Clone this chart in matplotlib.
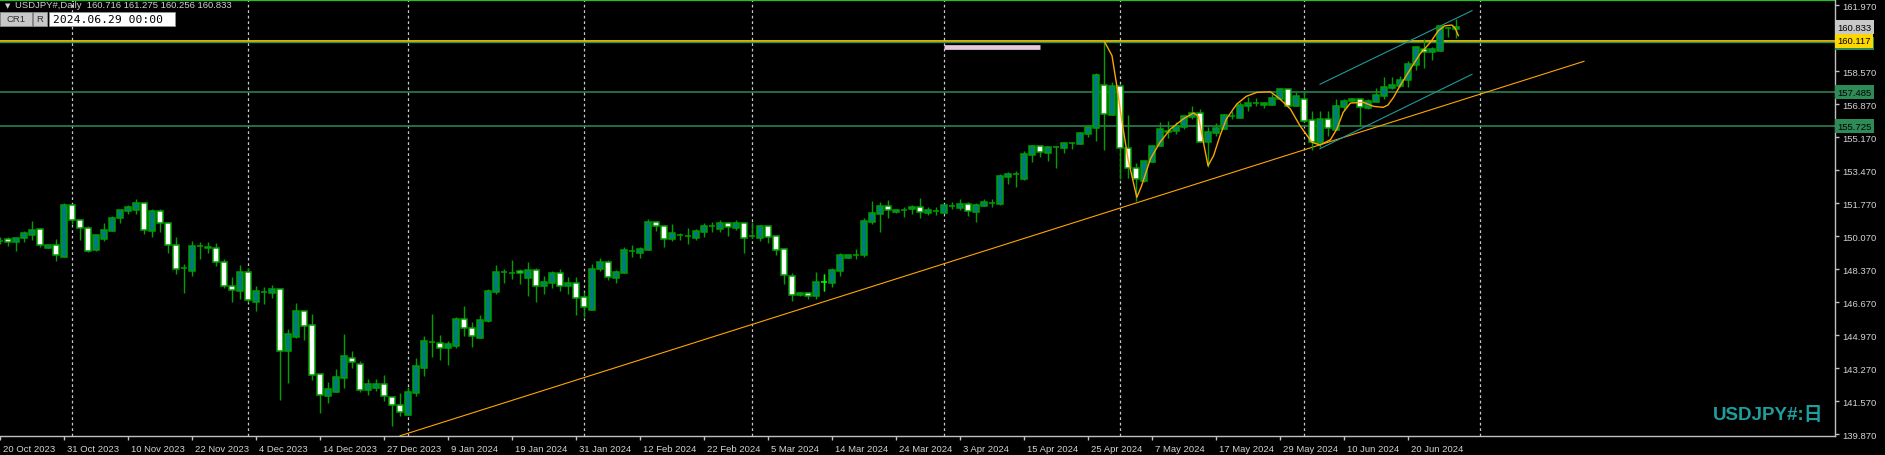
import matplotlib.pyplot as plt
from matplotlib.patches import Rectangle
from matplotlib.transforms import ScaledTranslation, blended_transform_factory

plt.rcParams['font.family'] = ['Liberation Sans', 'DejaVu Sans']

# daily candles, bar 0 = first visible bar
opens = [149.83, 149.90, 149.75, 149.95, 150.14, 150.43, 149.47, 149.59, 149.00, 151.67,
         150.88, 150.47, 149.36, 149.92, 150.34, 150.98, 151.34, 151.43, 151.77, 150.34,
         151.34, 150.72, 149.61, 148.41, 148.28, 149.54, 149.52, 149.44, 148.71, 147.51,
         147.22, 148.20, 146.69, 147.17, 147.15, 147.32, 144.13, 144.88, 146.19, 145.48,
         142.96, 141.84, 142.05, 142.77, 143.77, 143.46, 142.15, 142.24, 142.43, 141.76,
         141.36, 140.86, 142.00, 143.28, 144.59, 144.54, 144.28, 144.42, 145.78, 145.31,
         144.83, 145.69, 147.20, 148.20, 148.15, 148.25, 147.92, 148.30, 147.51, 147.66,
         148.15, 147.51, 147.63, 146.91, 146.27, 148.37, 148.71, 147.92, 148.18, 149.31,
         149.21, 149.36, 150.78, 150.57, 149.93, 150.14, 150.09, 149.98, 150.29, 150.57,
         150.45, 150.72, 150.50, 150.72, 150.05, 149.97, 150.59, 150.07, 149.40, 148.01,
         147.03, 147.12, 147.00, 147.68, 147.65, 148.27, 148.95, 149.11, 149.11, 150.81,
         151.22, 151.60, 151.29, 151.43, 151.44, 151.55, 151.27, 151.37, 151.27, 151.62,
         151.53, 151.70, 151.32, 151.60, 151.79, 151.73, 153.13, 153.28, 153.01, 154.26,
         154.69, 154.36, 154.67, 154.59, 154.86, 154.81, 155.32, 155.65, 157.85, 156.32,
         157.78, 154.59, 153.59, 152.90, 153.90, 154.69, 155.41, 155.46, 155.67, 156.22,
         156.42, 154.90, 155.36, 155.58, 156.24, 156.15, 156.78, 156.91, 156.82, 156.83,
         157.13, 157.64, 156.78, 157.13, 156.05, 154.86, 156.10, 155.52, 156.73, 157.05,
         157.11, 156.68, 156.99, 157.27, 157.71, 157.81, 158.09, 158.90, 159.72, 159.53,
         159.62, 160.80, 160.716]
highs = [150.00, 150.00, 149.95, 150.34, 150.84, 150.47, 149.59, 149.92, 151.77, 151.72,
         150.95, 150.60, 150.11, 150.74, 151.09, 151.39, 151.67, 151.98, 151.84, 151.46,
         151.46, 150.81, 150.02, 148.63, 149.83, 149.76, 149.76, 149.71, 148.88, 147.96,
         148.58, 148.41, 147.49, 147.46, 147.54, 147.32, 145.28, 146.62, 146.19, 146.05,
         142.96, 142.55, 143.22, 145.02, 144.15, 143.63, 142.70, 142.70, 142.91, 141.76,
         141.97, 142.27, 143.78, 144.93, 146.05, 144.97, 144.66, 145.91, 146.46, 145.62,
         145.99, 147.34, 148.56, 148.37, 148.83, 148.37, 148.73, 148.42, 147.99, 148.27,
         148.37, 147.97, 147.97, 147.17, 148.63, 148.94, 148.83, 148.32, 149.49, 149.61,
         149.49, 150.95, 150.86, 150.64, 150.69, 150.22, 150.47, 150.43, 150.74, 150.78,
         150.91, 150.72, 150.89, 150.72, 150.78, 150.64, 150.59, 150.14, 149.45, 148.15,
         147.20, 147.20, 148.20, 148.11, 148.42, 149.19, 149.09, 149.40, 151.00, 151.87,
         151.82, 151.92, 151.46, 151.56, 151.67, 152.03, 151.58, 151.55, 151.65, 151.82,
         151.96, 151.82, 151.77, 151.96, 151.96, 153.25, 153.35, 153.40, 154.43, 154.77,
         154.76, 154.72, 154.72, 154.86, 154.91, 155.41, 155.72, 158.47, 160.18, 157.99,
         157.78, 156.30, 153.83, 153.92, 154.76, 155.96, 155.98, 155.93, 156.27, 156.78,
         156.61, 155.67, 155.88, 156.36, 156.53, 156.96, 157.22, 157.18, 156.96, 157.39,
         157.68, 157.64, 157.47, 157.50, 156.53, 156.49, 156.53, 157.13, 157.13, 157.20,
         157.13, 157.13, 157.68, 158.25, 158.26, 158.30, 159.07, 159.84, 160.22, 159.82,
         160.87, 160.82, 161.275]
lows = [149.66, 149.57, 149.31, 149.78, 149.88, 149.49, 149.47, 148.80, 149.00, 150.69,
        149.88, 149.23, 149.31, 149.83, 150.31, 150.74, 151.20, 151.20, 150.17, 150.03,
        150.26, 149.19, 148.11, 147.13, 148.02, 148.88, 149.19, 148.54, 147.37, 146.69,
        146.82, 146.65, 146.21, 146.57, 146.88, 141.64, 142.50, 144.83, 144.73, 142.65,
        140.95, 141.47, 142.05, 142.24, 143.27, 142.02, 141.88, 142.08, 141.58, 140.30,
        140.81, 140.86, 141.84, 142.87, 143.85, 143.68, 143.44, 144.30, 144.93, 144.37,
        144.83, 145.62, 147.08, 147.65, 147.85, 147.60, 146.99, 146.69, 147.08, 147.39,
        147.25, 147.08, 146.01, 145.91, 146.27, 148.28, 147.80, 147.66, 148.18, 148.99,
        148.95, 149.36, 150.34, 149.52, 149.83, 149.88, 149.67, 149.88, 150.03, 150.29,
        150.29, 150.09, 150.39, 149.19, 149.95, 149.81, 149.71, 149.09, 147.60, 146.72,
        146.96, 146.82, 146.82, 147.25, 147.46, 148.02, 148.95, 148.88, 148.99, 150.70,
        150.29, 151.01, 151.27, 151.06, 151.20, 151.00, 151.17, 151.15, 151.27, 151.46,
        151.41, 151.12, 150.81, 151.60, 151.58, 151.68, 152.75, 152.61, 152.97, 153.87,
        154.14, 153.93, 153.57, 154.35, 154.55, 154.81, 155.19, 154.98, 154.50, 156.30,
        153.01, 153.07, 151.89, 152.84, 153.87, 154.69, 155.10, 155.32, 155.58, 156.10,
        154.90, 153.61, 155.24, 155.58, 156.10, 156.15, 156.53, 156.78, 156.65, 156.82,
        157.09, 156.75, 156.75, 155.96, 154.50, 154.64, 155.24, 155.52, 156.58, 156.96,
        155.75, 156.61, 156.99, 157.13, 157.64, 157.75, 157.75, 158.64, 158.74, 159.14,
        159.62, 160.31, 160.256]
closes = [149.83, 149.75, 149.95, 150.21, 150.38, 149.59, 149.59, 149.08, 151.67, 150.91,
          150.47, 149.31, 150.11, 150.36, 151.00, 151.39, 151.55, 151.75, 150.39, 151.34,
          150.72, 149.62, 148.39, 148.41, 149.54, 149.54, 149.44, 148.71, 147.48, 147.27,
          148.20, 146.79, 147.22, 147.17, 147.32, 144.16, 145.02, 146.19, 145.45, 142.92,
          141.89, 142.17, 142.79, 143.87, 143.59, 142.15, 142.45, 142.45, 141.84, 141.38,
          141.02, 142.02, 143.36, 144.64, 144.59, 144.28, 144.51, 145.78, 145.31, 144.93,
          145.73, 147.22, 148.20, 148.20, 148.15, 148.15, 148.30, 147.51, 147.68, 148.15,
          147.51, 147.63, 146.89, 146.43, 148.35, 148.71, 147.97, 148.20, 149.35, 149.31,
          149.40, 150.78, 150.57, 149.93, 150.21, 150.14, 150.09, 150.33, 150.57, 150.57,
          150.72, 150.52, 150.72, 149.98, 150.05, 150.59, 150.03, 149.36, 148.06, 147.05,
          147.13, 147.00, 147.68, 147.68, 148.30, 149.09, 149.07, 149.11, 150.83, 151.24,
          151.60, 151.42, 151.41, 151.43, 151.56, 151.29, 151.41, 151.37, 151.65, 151.62,
          151.70, 151.34, 151.65, 151.82, 151.79, 153.16, 153.25, 153.28, 154.28, 154.69,
          154.38, 154.66, 154.67, 154.86, 154.86, 155.38, 155.67, 158.36, 156.34, 157.78,
          154.59, 153.59, 152.99, 153.92, 154.69, 155.58, 155.50, 155.75, 156.24, 156.42,
          154.90, 155.41, 155.63, 156.30, 156.24, 156.82, 156.91, 156.91, 156.91, 157.16,
          157.64, 156.78, 157.27, 156.01, 154.90, 156.10, 155.62, 156.75, 157.01, 157.15,
          156.70, 157.01, 157.33, 157.73, 157.85, 158.11, 158.93, 159.81, 159.53, 159.70,
          160.87, 160.80, 160.833]

date_ticks = list(range(0, 177, 8))
date_labels = ['20 Oct 2023', '31 Oct 2023', '10 Nov 2023', '22 Nov 2023', '4 Dec 2023',
               '14 Dec 2023', '27 Dec 2023', '9 Jan 2024', '19 Jan 2024', '31 Jan 2024',
               '12 Feb 2024', '22 Feb 2024', '5 Mar 2024', '14 Mar 2024', '24 Mar 2024',
               '3 Apr 2024', '15 Apr 2024', '25 Apr 2024', '7 May 2024', '17 May 2024',
               '29 May 2024', '10 Jun 2024', '20 Jun 2024']
month_starts = [9, 31, 51, 73, 94, 118, 140, 163, 185]
price_ticks = [161.97, 158.57, 156.87, 155.17, 153.47, 151.77, 150.07, 148.37,
               146.67, 144.97, 143.27, 141.57, 139.87]

# zigzag-like curve (bar, price)
curve_x = [138.0, 139.0, 139.6, 140.2, 141.0, 142.1, 142.7, 143.8, 145.0, 146.3, 147.9, 149.2,
           149.8, 151.0, 151.7, 152.5, 153.3, 154.6, 155.8, 157.1, 158.8, 160.0, 161.3, 162.5,
           164.0, 165.0, 166.3, 167.1, 167.9, 168.8, 170.4, 171.7, 172.9, 173.5, 174.2, 175.0,
           176.3, 177.5, 178.8, 179.8, 180.6, 181.5, 181.9, 182.3]
curve_y = [160.13, 159.36, 157.81, 156.10, 154.04, 152.06, 152.66, 154.04, 154.90, 155.58,
           156.10, 156.41, 156.24, 153.69, 154.21, 155.24, 156.10, 156.87, 157.27, 157.47,
           157.50, 157.13, 156.61, 155.75, 154.90, 154.76, 155.03, 155.58, 156.44, 156.92,
           156.96, 156.75, 156.70, 156.82, 157.22, 157.81, 158.67, 159.45, 160.05, 160.65,
           160.90, 160.94, 160.77, 160.39]

trend_x = [50, 198]
trend_y = [139.78, 159.07]
chan_x = [165, 184]
chan_upper = [157.89, 161.68]
chan_lower = [154.57, 158.40]

W, H = 1885, 456
fig = plt.figure(figsize=(W / 100, H / 100), dpi=100, facecolor='black')
ax = fig.add_axes([0, 19 / H, 1835 / W, 437 / H], facecolor='black')
ax.set_xlim(0, 1835 / 8)
ax.set_ylim(139.77, 162.28)

grid_c = '#c8c8c8'
for m in month_starts:
    ax.axvline(m, color=grid_c, lw=0.9, ls=(0, (2.2, 2.2)), zorder=1)

ax.axhline(162.25, color='#22c022', lw=1.6, zorder=2)
ax.axhline(160.117, color='#ffd700', lw=1.2, zorder=2)
ax.axhline(160.04, color='#2e8b57', lw=1.0, zorder=2)
ax.axhline(157.485, color='#2e8b57', lw=1.1, zorder=2)
ax.axhline(155.725, color='#2e8b57', lw=1.1, zorder=2)
ax.plot([118, 130], [159.79, 159.79], color='#e6cadc', lw=3.4, solid_capstyle='butt', zorder=3)

ax.plot(trend_x, trend_y, color='#ffa500', lw=0.8, zorder=3)
ax.plot(chan_x, chan_upper, color='#1f9a9a', lw=0.8, zorder=3)
ax.plot(chan_x, chan_lower, color='#1f9a9a', lw=0.8, zorder=3)

# candles
idx = list(range(len(opens)))
wick_c = '#00a000'
ax.vlines(idx, lows, highs, color=wick_c, lw=1.0, zorder=4)
bottoms = [min(o, c) for o, c in zip(opens, closes)]
heights = [abs(c - o) for o, c in zip(opens, closes)]
fills = ['#007b7b' if c > o else '#ffffff' for o, c in zip(opens, closes)]
edges = [wick_c] * len(idx)
edges[103] = '#00ff00'
ax.bar(idx, heights, bottom=bottoms, width=0.7, color=fills, edgecolor=edges,
       linewidth=1.1, zorder=5)
ax.vlines([103], [lows[103]], [highs[103]], color='#00ff00', lw=1.0, zorder=6)

ax.plot(curve_x, curve_y, color='#ffa500', lw=1.0, zorder=7)

# axes styling
for s in ['top', 'left']:
    ax.spines[s].set_visible(False)
for s in ['right', 'bottom']:
    ax.spines[s].set_color('#c0c0c0')
    ax.spines[s].set_linewidth(1.0)

ax.yaxis.tick_right()
ax.set_yticks(price_ticks)
ax.set_yticklabels(['%.3f' % p for p in price_ticks])
ax.set_xticks(date_ticks)
ax.set_xticklabels(date_labels, ha='left')
ax.tick_params(axis='both', colors='#c0c0c0', labelcolor='#d4d4d4', length=3,
               width=1, direction='out', labelsize=6.8, pad=2)
ax.tick_params(axis='x', pad=3)
for lab in ax.get_xticklabels():
    lab.set_transform(lab.get_transform() + ScaledTranslation(2 / 72, 0, fig.dpi_scale_trans))

# price boxes on the right scale
tr = blended_transform_factory(ax.transAxes, ax.transData)
boxes = [(159.99, '160.040', '#2e8b57', '#000000'),
         (160.117, '160.117', '#ffd700', '#000000'),
         (160.833, '160.833', '#c8c8c8', '#000000'),
         (157.485, '157.485', '#2e8b57', '#000000'),
         (155.725, '155.725', '#2e8b57', '#000000')]
for p, t, bg, fg in boxes:
    ax.text(1.0012, p, t, transform=tr, ha='left', va='center', fontsize=6.8, color=fg,
            bbox=dict(boxstyle='square,pad=0.25', fc=bg, ec='none'), clip_on=False, zorder=10)

# watermark
ax.text(0.9935, 0.03, 'USDJPY#:日', transform=ax.transAxes, ha='right', va='bottom',
        color='#1f9e9e', fontsize=13.5, fontweight='bold',
        family=['Liberation Sans', 'Noto Sans CJK JP'])

# header
fig.text(5 / W, 1 - 6 / H, '▼', fontsize=5, color='#d0d0d0', va='center', ha='left',
         family=['DejaVu Sans'])
fig.text(15 / W, 1 - 6 / H, 'USDJPY#,Daily  160.716 161.275 160.256 160.833', fontsize=6.8,
         color='#d0d0d0', va='center', ha='left')
fig.patches.append(Rectangle((0, 1 - 27 / H), 32 / W, 14 / H, transform=fig.transFigure,
                             fc='#c8c8c8', ec='#909090', lw=0.6))
fig.patches.append(Rectangle((33 / W, 1 - 27 / H), 14 / W, 14 / H, transform=fig.transFigure,
                             fc='#c8c8c8', ec='#909090', lw=0.6))
fig.patches.append(Rectangle((49 / W, 1 - 27 / H), 126 / W, 14 / H, transform=fig.transFigure,
                             fc='#ffffff', ec='#909090', lw=0.6))
fig.text(16 / W, 1 - 20 / H, 'CR1', fontsize=6.8, color='#303030', ha='center', va='center')
fig.text(40 / W, 1 - 20 / H, 'R', fontsize=6.8, color='#303030', ha='center', va='center')
fig.text(53 / W, 1 - 20 / H, '2024.06.29 00:00', fontsize=8.2, color='#000000',
         ha='left', va='center', family='DejaVu Sans Mono')

fig.savefig('out.png', dpi=100, facecolor='black')
